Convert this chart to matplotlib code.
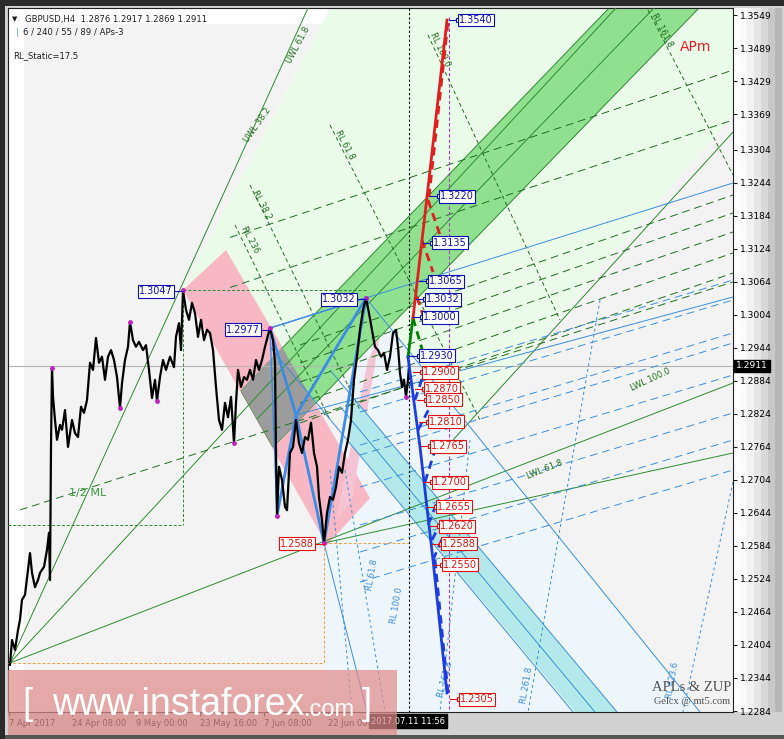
import matplotlib
matplotlib.use('Agg')
import matplotlib.pyplot as plt
from matplotlib.patches import Polygon, Rectangle
import numpy as np

# ---------------- data (x in bar-position units, y in price) ----------------
bar_x = [10, 12, 15, 18, 20, 22, 25, 28, 30, 32, 35, 38, 40, 44, 47, 49, 50, 51, 52, 53, 55, 57,
         60, 62, 65, 68, 72, 75, 78, 81, 84, 87, 90, 93, 96, 99, 102, 105, 108, 111, 114, 117,
         120, 122, 125, 128, 130, 133, 136, 139, 143, 146, 149, 152, 155, 157, 160, 163, 166,
         170, 174, 176, 179, 181, 183, 186, 189, 192, 195, 198, 201, 204, 207, 210, 213, 216,
         219, 222, 225, 228, 231, 234, 236, 238, 241, 244, 247, 250, 253, 256, 259, 262, 265,
         268, 270, 273, 275, 276, 277, 279, 282, 285, 287, 290, 293, 296, 299, 302, 305, 308,
         311, 314, 317, 319, 322, 324, 327, 330, 333, 336, 339, 342, 345, 348, 351, 354, 357,
         360, 363, 366, 369, 372, 375, 378, 381, 384, 387, 390, 393, 396, 398, 400, 402, 404,
         406, 408, 409]
close = [1.2368, 1.2413, 1.2395, 1.2431, 1.2450, 1.2486, 1.2495, 1.2540, 1.2571, 1.2535, 1.2509,
         1.2522, 1.2535, 1.2546, 1.2577, 1.2608, 1.2522, 1.2764, 1.2908, 1.2855, 1.2813, 1.2777,
         1.2804, 1.2795, 1.2831, 1.2764, 1.2813, 1.2789, 1.2782, 1.2837, 1.2826, 1.2849, 1.2917,
         1.2904, 1.2962, 1.2917, 1.2928, 1.2886, 1.2928, 1.2940, 1.2922, 1.2891, 1.2835, 1.2880,
         1.2922, 1.2946, 1.2991, 1.2958, 1.2946, 1.2955, 1.2940, 1.2949, 1.2904, 1.2853, 1.2886,
         1.2848, 1.2891, 1.2922, 1.2904, 1.2928, 1.2909, 1.2964, 1.2989, 1.2940, 1.3049, 1.3013,
         1.2995, 1.3026, 1.3007, 1.2964, 1.2995, 1.2958, 1.2977, 1.2971, 1.2940, 1.2873, 1.2813,
         1.2795, 1.2844, 1.2818, 1.2855, 1.2771, 1.2844, 1.2904, 1.2873, 1.2891, 1.2886, 1.2904,
         1.2886, 1.2922, 1.2904, 1.2922, 1.2946, 1.2967, 1.2980, 1.2958, 1.2917, 1.2753, 1.2639,
         1.2728, 1.2704, 1.2655, 1.2649, 1.2753, 1.2764, 1.2813, 1.2771, 1.2753, 1.2782, 1.2777,
         1.2808, 1.2753, 1.2728, 1.2673, 1.2631, 1.2589, 1.2644, 1.2673, 1.2668, 1.2691, 1.2728,
         1.2717, 1.2753, 1.2777, 1.2813, 1.2886, 1.2928, 1.2977, 1.3013, 1.3035, 1.3007, 1.2977,
         1.2946, 1.2940, 1.2928, 1.2935, 1.2904, 1.2928, 1.2971, 1.2977, 1.2946, 1.2898, 1.2873,
         1.2886, 1.2855, 1.2886, 1.2911]

swing_x = [52, 120, 130, 157, 183, 234, 270, 277, 324, 366, 406]
swing_p = [1.2908, 1.2835, 1.2991, 1.2848, 1.3049, 1.2771, 1.2980, 1.2639, 1.2589, 1.3035, 1.2855]

price_ticks = [1.3549, 1.3489, 1.3429, 1.3369, 1.3304, 1.3244, 1.3184, 1.3124, 1.3064, 1.3004,
               1.2944, 1.2884, 1.2824, 1.2764, 1.2704, 1.2644, 1.2584, 1.2524, 1.2464, 1.2404,
               1.2344, 1.2284]
time_tick_x = [9, 72, 136, 200, 264, 328]
time_labels = ['7 Apr 2017', '24 Apr 08:00', '9 May 00:00', '23 May 16:00', '7 Jun 08:00',
               '22 Jun 00:00']
last_price = 1.2911

# projection levels: (price, label x)
up_levels = [1.3540, 1.3220, 1.3135, 1.3065, 1.3032, 1.3000, 1.2930]
up_label_x = [459, 440, 433, 429, 426, 423, 420]
down_levels = [1.2900, 1.2870, 1.2850, 1.2810, 1.2765, 1.2700, 1.2655, 1.2620, 1.2588, 1.2550, 1.2305]
down_label_x = [423, 425, 427, 429, 431, 433, 437, 440, 442, 443, 460]

# pattern points (zigzag)
zz_x = [270, 296, 324, 366]
zz_p = [1.2980, 1.2822, 1.2589, 1.3035]
zz2_x = [277, 296, 366]
zz2_p = [1.2639, 1.2822, 1.3035]

X0, X1 = 8, 733
P_TOP, P_BOT = 1.35618, 1.22822

W, H = 784, 739
fig = plt.figure(figsize=(W / 100, H / 100), dpi=100)
fig.patch.set_facecolor('#d2d2d2')

def fpx(x, y):
    return (x / W, 1 - y / H)

# outer decoration
fig.add_artist(Rectangle(fpx(0, 6), 1, 6 / H, transform=fig.transFigure, fc='#2b2b2b', ec='none', zorder=0))
fig.add_artist(Rectangle(fpx(0, 739), 5 / W, 1, transform=fig.transFigure, fc='#2b2b2b', ec='none', zorder=0))
for i, c in enumerate(['#ffffff', '#fbfbfb', '#f2f2f2', '#e6e6e6', '#d8d8d8', '#c8c8c8', '#b8b8b8']):
    fig.add_artist(Rectangle(fpx(733 + i * 7, 712), 7 / W, 704 / H, transform=fig.transFigure,
                             fc=c, ec='none', zorder=0))
fig.add_artist(Rectangle(fpx(5, 739), 1, 4 / H, transform=fig.transFigure, fc='#555555', ec='none', zorder=0))

ax = fig.add_axes([X0 / W, 1 - 712 / H, (X1 - X0) / W, (712 - 8) / H])
ax.set_xlim(X0, X1)
ax.set_ylim(P_BOT, P_TOP)
ax.set_facecolor('#ffffff')
ax.add_patch(Rectangle((24, P_BOT), X1 - 24, 1.35327 - P_BOT, fc='#f3f3f3', ec='none', zorder=0))

def poly(xs, ps, fc, z=1, ec='none', lw=0.7, alpha=1):
    ax.add_patch(Polygon(list(zip(xs, ps)), closed=True, fc=fc, ec=ec, lw=lw, zorder=z, alpha=alpha))

# regions
poly([183, 330, 733, 733, 467, 366, 273, 241],
     [1.30492, 1.35618, 1.35618, 1.33673, 1.28057, 1.30347, 1.27639, 1.28657], '#ebfbea')
poly([366, 700, 324, 324], [1.30347, 1.22822, 1.22822, 1.25894], '#eef6fc')
poly([183, 226, 370, 327], [1.30492, 1.31219, 1.26712, 1.25858], '#f7b7c4', z=2)
poly([336, 368, 380, 352], [1.26312, 1.29220, 1.29674, 1.26676], '#f5c4d4', z=2)
poly([350, 575, 617, 350], [1.27712, 1.22822, 1.22822, 1.28602], '#b3e9ea', z=2)
poly([241, 609, 699, 273], [1.28657, 1.35618, 1.35618, 1.27639], '#90e090', z=2,
     ec='#2e8b2e', lw=0.7)
poly([241, 282, 315, 273], [1.28657, 1.29456, 1.28420, 1.27639], '#9c9c9c', z=2)

def seg(x1, p1, x2, p2, c, lw=0.7, z=3, dashes=None):
    l, = ax.plot([x1, x2], [p1, p2], color=c, lw=lw, zorder=z, solid_capstyle='butt')
    if dashes is not None:
        l.set_dashes(dashes)
    return l

GS = '#2e8b2e'
GD = '#1f6f1f'
BL = '#3a8fdc'

# green solid fan / pitchfork lines
seg(10, 1.23713, 308, 1.35618, GS)
seg(10, 1.23713, 616, 1.35618, GS)
seg(10, 1.23713, 733, 1.28802, GS)
seg(257, 1.28148, 654, 1.35618, GS)
seg(453, 1.27766, 733, 1.33364, GS)
seg(324, 1.25894, 733, 1.27530, GS)

# green dashed lines to the right
seg(20, 1.26494, 733, 1.30638, GD, dashes=(8, 5))
for x_start, p_start, p_end in [(230, 1.31448, 1.34490), (230, 1.30539, 1.33582),
                                (300, 1.29493, 1.32219), (300, 1.29166, 1.31892),
                                (300, 1.28820, 1.31547), (300, 1.28439, 1.31165),
                                (300, 1.28075, 1.30801)]:
    seg(x_start, p_start, 733, p_end, GD, dashes=(8, 5))
# steep dashed RL lines
for x1, p1, x2, p2 in [(235, 1.31674, 330, 1.28130), (250, 1.32401, 360, 1.28311),
                       (330, 1.33491, 480, 1.28130), (428, 1.35127, 560, 1.29947),
                       (648, 1.35581, 733, 1.32582)]:
    seg(x1, p1, x2, p2, GD, dashes=(4, 3))

# blue solid lines
seg(270, 1.29802, 733, 1.32437, BL)
seg(296, 1.28220, 733, 1.30365, BL)
seg(366, 1.30347, 700, 1.22822, BL)
seg(270, 1.29456, 573, 1.22822, BL)
seg(330, 1.29038, 617, 1.22822, BL)
seg(340, 1.28375, 595, 1.22822, BL)
seg(324, 1.25894, 367, 1.22822, BL)
# blue dashed lines
for p_start, p_end in [(1.28748, 1.30674), (1.28384, 1.30311), (1.27784, 1.29711), (1.27603, 1.29529),
                       (1.27021, 1.28947), (1.26331, 1.28257), (1.25840, 1.27766), (1.25295, 1.27221)]:
    seg(360, p_start - 0.0011, 733, p_end, BL, dashes=(8, 5))
for x1, p1, x2, p2 in [(330, 1.27221, 352, 1.22822), (345, 1.27221, 385, 1.22822),
                       (470, 1.27766, 440, 1.22822), (600, 1.30311, 528, 1.22822),
                       (733, 1.27003, 683, 1.22822)]:
    seg(x1, p1, x2, p2, BL, dashes=(3, 3))

# dashed boxes
seg(183, 1.30492, 366, 1.30492, '#2e8b2e', dashes=(3, 2))
seg(183, 1.30492, 183, 1.26221, '#2e8b2e', dashes=(3, 2))
seg(X0, 1.26221, 183, 1.26221, '#2e8b2e', dashes=(3, 2))
seg(324, 1.25894, 410, 1.25894, '#f0a040', dashes=(3, 2))
seg(324, 1.25894, 324, 1.23713, '#f0a040', dashes=(3, 2))
seg(X0, 1.23713, 324, 1.23713, '#f0a040', dashes=(3, 2))

# current price line
ax.axhline(last_price, color='#b4b4b4', lw=0.8, zorder=2.5)

# zigzag pattern
ax.plot(zz_x, zz_p, color='#3c8ce6', lw=2, zorder=5)
ax.plot(zz2_x, zz2_p, color='#3c8ce6', lw=2, zorder=5)
seg(270, 1.2980, 277, 1.2639, '#3c8ce6', lw=1, z=5)
seg(270, 1.2980, 366, 1.3035, '#3c8ce6', lw=1, z=5)

# price series
ax.plot(bar_x, close, color='black', lw=1.6, zorder=6)
ax.scatter(swing_x, swing_p, s=6, color='#c020c0', zorder=7)

# vertical lines
seg(409, P_TOP, 409, P_BOT, 'black', lw=0.8, dashes=(2, 2), z=4)
seg(449, 1.3545, 449, P_BOT, '#a040c0', lw=0.8, dashes=(3, 2), z=4)

# projection fork lines
ax.plot([408, 413], [1.29275, 1.29983], color='#008000', lw=2, zorder=8)
seg(413, 1.29983, 422, 1.29420, '#008000', lw=2, dashes=(3, 2), z=8)
ax.plot([413, 427, 447], [1.29983, 1.32183, 1.35399], color='#e02020', lw=2, zorder=8)
for x1, p1, x2, p2 in [(428, 1.32128, 440, 1.31492), (422, 1.31401, 433, 1.30819),
                       (417, 1.30365, 423, 1.30038), (429, 1.32183, 448, 1.35363)]:
    seg(x1, p1, x2, p2, '#e02020', lw=2, dashes=(3, 2), z=8)
ax.plot([408, 420, 433, 447], [1.29275, 1.27639, 1.25585, 1.23168], color='#1c3ee0', lw=2, zorder=8)
for x1, p1, x2, p2 in [(415, 1.28493, 425, 1.29038), (418, 1.27948, 430, 1.28366),
                       (425, 1.27003, 435, 1.27584), (428, 1.26221, 438, 1.26676),
                       (432, 1.25949, 442, 1.26312), (433, 1.25585, 443, 1.26003),
                       (435, 1.25585, 448, 1.23168)]:
    seg(x1, p1, x2, p2, '#1c3ee0', lw=2, dashes=(3, 2), z=8)

def level_box(x, p, c):
    ax.plot([x - 10, x - 1], [p, p], color=c, lw=0.8, zorder=9)
    ax.plot([x - 1], [p], marker='s', ms=3, mfc='white', mec=c, mew=0.8, zorder=9)
    ax.text(x, p, f'{p:.4f}', color=c, fontsize=7, va='center', ha='left', zorder=10,
            bbox=dict(boxstyle='square,pad=0.15', fc='white', ec=c, lw=0.8))

for p, x in zip(up_levels, up_label_x):
    level_box(x, p, '#1010b0')
for p, x in zip(down_levels, down_label_x):
    level_box(x, p, '#e01010')

def left_box(x_pt, p, c):
    ax.plot([x_pt - 10, x_pt], [p, p], color=c, lw=0.8, zorder=9)
    ax.text(x_pt - 10, p, f'{p:.4f}', color=c, fontsize=7, va='center', ha='right', zorder=10,
            bbox=dict(boxstyle='square,pad=0.15', fc='white', ec=c, lw=0.8))

left_box(183, 1.3047, '#1010b0')
left_box(270, 1.2977, '#1010b0')
left_box(366, 1.3032, '#1010b0')
left_box(324, 1.2588, '#e01010')

# rotated small labels
def small(x, p, s, rot, c=GD):
    ax.text(x, p, s, fontsize=6, color=c, rotation=rot, ha='center', va='center', zorder=4,
            rotation_mode='anchor')

small(298, 1.34945, 'UWL 61.8', 62)
small(257, 1.33491, 'UWL 38.2', 55)
small(345, 1.33128, 'RL 61.8', -62)
small(262, 1.32037, 'RL 38.2', -62)
small(250, 1.31401, 'RL 236', -62)
small(440, 1.34854, 'RL 100.0', -65)
small(662, 1.35218, 'RL 161.8', -62)
small(650, 1.28857, 'LWL 100.0', 25)
small(545, 1.27221, 'LWL 61.8', 22)
small(372, 1.25313, 'RL 61.8', 80, BL)
small(397, 1.24767, 'RL 100.0', 80, BL)
small(445, 1.23404, 'RL 161.8', 75, BL)
small(527, 1.23313, 'RL 261.8', 80, BL)
small(673, 1.23404, 'RL 423.6', 80, BL)

ax.text(88, 1.26803, '1/2 ML', color='#3a9a3a', fontsize=8, ha='center', va='center', zorder=4)
ax.text(680, 1.34909, 'APm', color='#e02020', fontsize=10, ha='left', va='center', zorder=4)
ax.text(692, 1.23259, 'APLs & ZUP', color='#505050', fontsize=10.5, ha='center', va='center',
        family='Liberation Serif', zorder=4)
ax.text(692, 1.23004, 'Gelcx @ mt5.com', color='#505050', fontsize=7.5, ha='center', va='center',
        family='Liberation Serif', zorder=4)

ax.text(12, 1.35418, '\u25bc', fontsize=5, color='#202020', ha='left', va='center', zorder=11)
ax.text(25, 1.35418, 'GBPUSD,H4  1.2876 1.2917 1.2869 1.2911', fontsize=6.1, color='#202020',
        ha='left', va='center', zorder=11)
ax.text(16, 1.35181, '|', fontsize=6.5, color='#70a0e0', ha='left', va='center', zorder=11)
ax.text(23, 1.35181, '6 / 240 / 55 / 89 / APs-3', fontsize=6.1, color='#202020', ha='left',
        va='center', zorder=11)
ax.text(13, 1.34745, 'RL_Static=17.5', fontsize=6.1, color='#202020', ha='left', va='center', zorder=11)

# axes styling
for s in ax.spines.values():
    s.set_color('#202020')
    s.set_linewidth(0.8)
ax.yaxis.tick_right()
ax.set_yticks(price_ticks)
ax.set_yticklabels([f'{v:.4f}' for v in price_ticks])
ax.set_xticks(time_tick_x)
ax.set_xticklabels(time_labels)
for lab in ax.get_xticklabels():
    lab.set_horizontalalignment('left')
ax.tick_params(axis='y', labelsize=6.6, length=3, width=0.8, color='#202020', pad=2)
ax.tick_params(axis='x', labelsize=6.0, length=3, width=0.8, color='#202020', pad=2)

# current price tag and crosshair time tag
fig.text(736 / W, 1 - 366 / H, '1.2911', fontsize=6.6, color='white', ha='left', va='center',
         bbox=dict(boxstyle='square,pad=0.2', fc='black', ec='black'), zorder=20)
fig.text(371 / W, 1 - 721 / H, '2017.07.11 11:56', fontsize=6.0, color='white', ha='left',
         va='center', bbox=dict(boxstyle='square,pad=0.25', fc='black', ec='black'), zorder=20)

# watermark
fig.add_artist(Rectangle(fpx(8, 735), 389 / W, 65 / H, transform=fig.transFigure, fc='#e08c8c',
                         ec='none', alpha=0.72, zorder=30))
fig.text(22 / W, 1 - 705 / H, '[', fontsize=26, color='white', ha='left', va='center', zorder=31,
         family='Liberation Sans')
fig.text(52 / W, 1 - 705 / H, 'www.instaforex', fontsize=27, color='white', ha='left', va='center',
         zorder=31, family='Liberation Sans')
fig.text(304 / W, 1 - 710 / H, '.com', fontsize=17, color='white', ha='left', va='center',
         zorder=31, family='Liberation Sans')
fig.text(362 / W, 1 - 705 / H, ']', fontsize=26, color='white', ha='left', va='center', zorder=31,
         family='Liberation Sans')

fig.savefig('out.png', dpi=100, facecolor=fig.get_facecolor())
